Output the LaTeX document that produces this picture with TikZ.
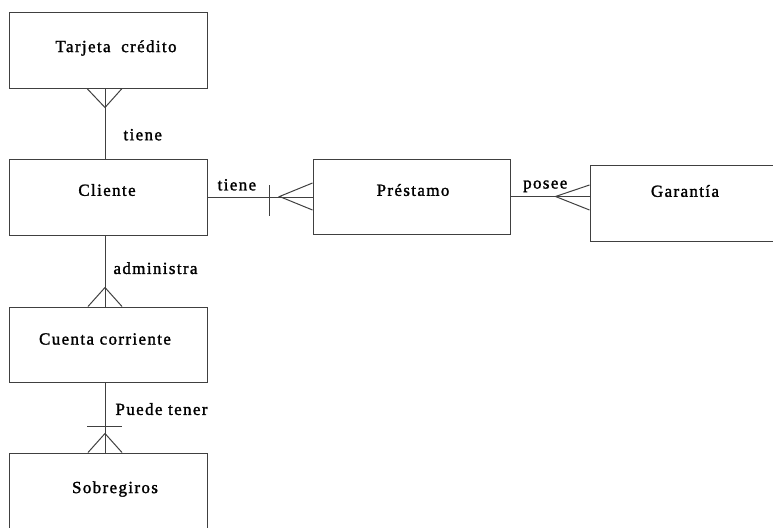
\documentclass[tikz,border=0pt]{standalone}
\usepackage{fontspec}
\setmainfont{Liberation Serif}[LetterSpace=8, FakeBold=1.5]

\begin{document}
\begin{tikzpicture}[x=1pt, y=1pt, font=\fontsize{17}{20}\selectfont,
    ent/.style={draw=black!75, line width=1pt, minimum width=198pt, minimum height=75pt},
    rel/.style={inner sep=0pt},
    lin/.style={draw=black!75, line width=1pt}]
        \useasboundingbox (0,0) rectangle (773,-527);

        \node[ent, label={[xshift=8pt, yshift=2.5pt]center:Tarjeta\hspace{5pt} crédito}] (tar) at (108,-50.5) {};
        \node[ent, minimum height=76pt, label={[xshift=-1pt, yshift=7pt]center:Cliente}] (cli) at (108,-197) {};
        \draw[lin] ([xshift=-3pt]tar.south) to node[rel, anchor=west, pos=0.66, xshift=18pt]{tiene} ([xshift=-3pt]cli.north);
        \draw[lin] ([xshift=-21pt]tar.south) -- ([xshift=-3pt, yshift=-19pt]tar.south) -- ([xshift=14pt]tar.south);

        \node[ent, minimum width=197pt, label={[xshift=1.5pt, yshift=6.5pt]center:Préstamo}] (pre) at (411.5,-196.5) {};
        \draw[lin] (cli.east) to node[rel, anchor=south, pos=0.28, yshift=6pt]{tiene} (cli.east -| pre.west);
        \draw[lin] ([xshift=62pt, yshift=12pt]cli.east) -- ([xshift=62pt, yshift=-19pt]cli.east);
        \draw[lin] ([yshift=13.5pt]pre.west) -- ([xshift=-33pt]pre.west) -- ([yshift=-13.5pt]pre.west);

        \node[ent, minimum height=76pt, label={[xshift=-4pt, yshift=12pt]center:Garantía}] (gar) at (689,-203) {};
        \draw[lin] (pre.east) to node[rel, anchor=base, pos=0.44, yshift=8pt]{posee} (pre.east -| gar.west);
        \draw[lin] ([yshift=18pt]gar.west) -- ([xshift=-34pt, yshift=6.5pt]gar.west) -- ([yshift=-7pt]gar.west);

        \node[ent, label={[xshift=-3pt, yshift=5.5pt]center:Cuenta corriente}] (cue) at (108,-344.5) {};
        \draw[lin] ([xshift=-3pt]cli.south) to node[rel, anchor=west, pos=0.46, xshift=8pt]{administra} ([xshift=-3pt]cue.north);
        \draw[lin] ([xshift=-20pt]cue.north) -- ([xshift=-3pt, yshift=19pt]cue.north) -- ([xshift=14pt]cue.north);

        \node[ent, label={[xshift=7pt, yshift=1.5pt]center:Sobregiros}] (sob) at (108,-490.5) {};
        \draw[lin] ([xshift=-3pt]cue.south) to node[rel, anchor=west, pos=0.38, xshift=10pt]{Puede tener} ([xshift=-3pt]sob.north);
        \draw[lin] ([xshift=-21pt, yshift=26pt]sob.north) -- ([xshift=14pt, yshift=26pt]sob.north);
        \draw[lin] ([xshift=-20pt]sob.north) -- ([xshift=-3pt, yshift=19pt]sob.north) -- ([xshift=14pt]sob.north);
      \end{tikzpicture}
\end{document}
